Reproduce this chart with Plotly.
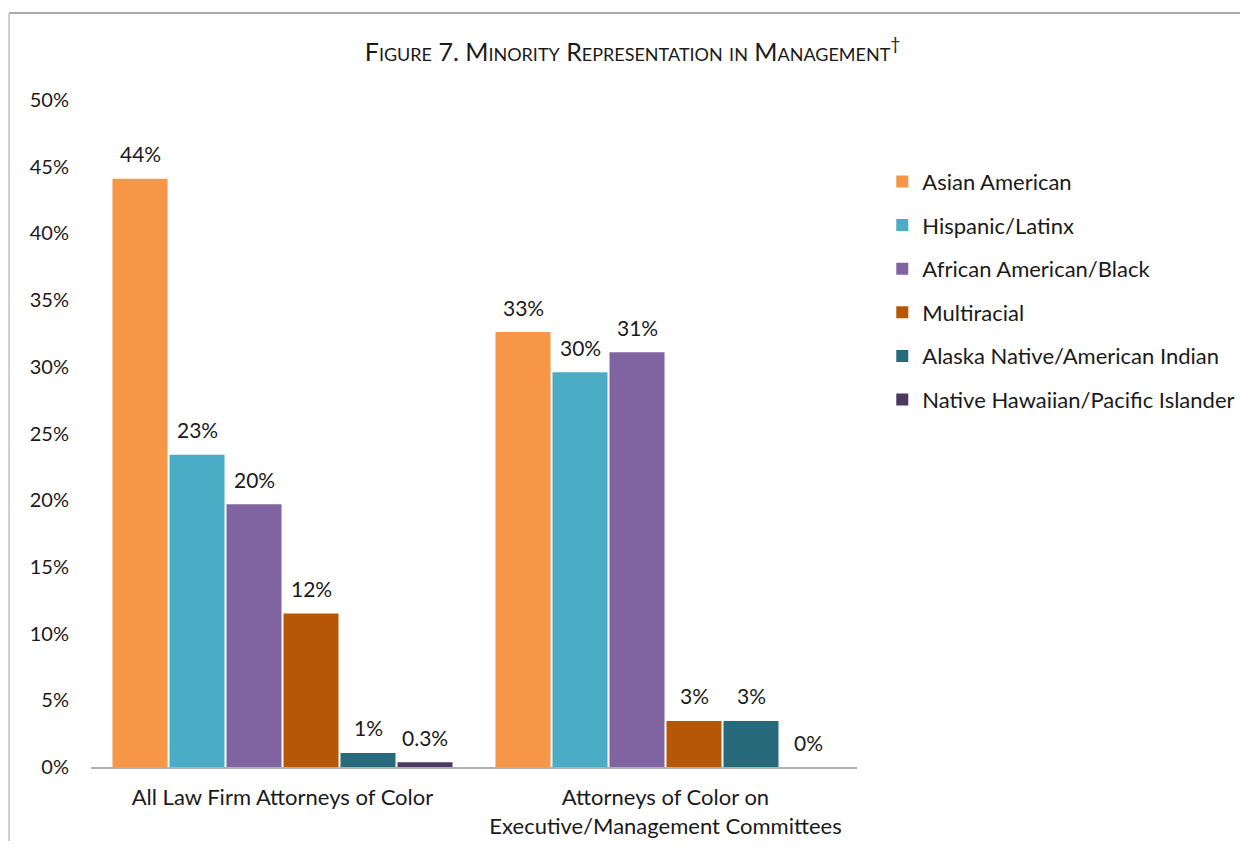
import plotly.graph_objects as go

categories = ["All Law Firm Attorneys of Color",
              "Attorneys of Color on<br>Executive/Management Committees"]
series_names = ["Asian American", "Hispanic/Latinx", "African American/Black",
                "Multiracial", "Alaska Native/American Indian",
                "Native Hawaiian/Pacific Islander"]
asian = [44.1, 32.6]
hispanic = [23.4, 29.6]
african = [19.7, 31.1]
multiracial = [11.5, 3.45]
alaska = [1.05, 3.45]
hawaiian = [0.35, 0.0]
labels_asian = ["44%", "33%"]
labels_hispanic = ["23%", "30%"]
labels_african = ["20%", "31%"]
labels_multiracial = ["12%", "3%"]
labels_alaska = ["1%", "3%"]
labels_hawaiian = ["0.3%", "0%"]
y_ticks = [0, 5, 10, 15, 20, 25, 30, 35, 40, 45, 50]
y_ticktext = ["0%", "5%", "10%", "15%", "20%", "25%", "30%", "35%", "40%", "45%", "50%"]

values = [asian, hispanic, african, multiracial, alaska, hawaiian]
labels = [labels_asian, labels_hispanic, labels_african, labels_multiracial,
          labels_alaska, labels_hawaiian]
colors = ["#F79646", "#4BACC6", "#8064A2", "#B65708", "#276A7C", "#4A3A60"]

FONT = "Lato, Calibri, Carlito, sans-serif"
TXT = "#1a1a1a"

fig = go.Figure()
for i, (name, vals, col) in enumerate(zip(series_names, values, colors)):
    fig.add_trace(go.Bar(
        name=name, x=categories, y=vals, marker=dict(color=col, line=dict(width=0)),
        legendgroup=name,
    ))

# data labels above bars
n = len(series_names)
slot = 57
for i in range(n):
    for j, cat in enumerate(categories):
        fig.add_annotation(
            x=cat, y=values[i][j], xref="x", yref="y",
            text=labels[i][j], showarrow=False,
            xshift=(i - (n - 1) / 2) * slot, yshift=25,
            yanchor="middle", xanchor="center",
            font=dict(family=FONT, size=21, color=TXT),
        )

# border lines (frame of chart area)
fig.add_shape(type="line", xref="paper", yref="paper",
              x0=-0.107, x1=1.6, y0=1.1304, y1=1.1304,
              line=dict(color="#8C8C8C", width=1.5))
fig.add_shape(type="line", xref="paper", yref="paper",
              x0=-0.107, x1=-0.107, y0=1.1304, y1=-0.2,
              line=dict(color="#C0C0C0", width=1.5))

fig.update_layout(
    width=1232, height=833,
    paper_bgcolor="white", plot_bgcolor="white",
    margin=dict(l=83, r=383, t=92, b=74, autoexpand=False),
    barmode="group", bargap=0.107, bargroupgap=0.035,
    font=dict(family=FONT, color=TXT),
    title=dict(text="Figure 7. Minority Representation in Management<sup>†</sup>",
               x=0.507, xanchor="center", y=0.947, yanchor="middle",
               font=dict(family=FONT, size=25, color=TXT, variant="small-caps")),
    showlegend=True,
    legend=dict(x=1.033, y=0.909, xanchor="left", yanchor="top",
                font=dict(family=FONT, size=22, color=TXT),
                tracegroupgap=12, itemwidth=30, traceorder="grouped"),
    xaxis=dict(showline=True, linecolor="#B0B0B0", linewidth=2,
               ticks="", tickfont=dict(family=FONT, size=22, color=TXT),
               ticklabelstandoff=10, showgrid=False),
    yaxis=dict(range=[0, 50], tickvals=y_ticks, ticktext=y_ticktext,
               showgrid=False, zeroline=False, showline=False, ticks="",
               ticklabelstandoff=21,
               tickfont=dict(family=FONT, size=20, color=TXT)),
)

fig.write_html("out.html")
